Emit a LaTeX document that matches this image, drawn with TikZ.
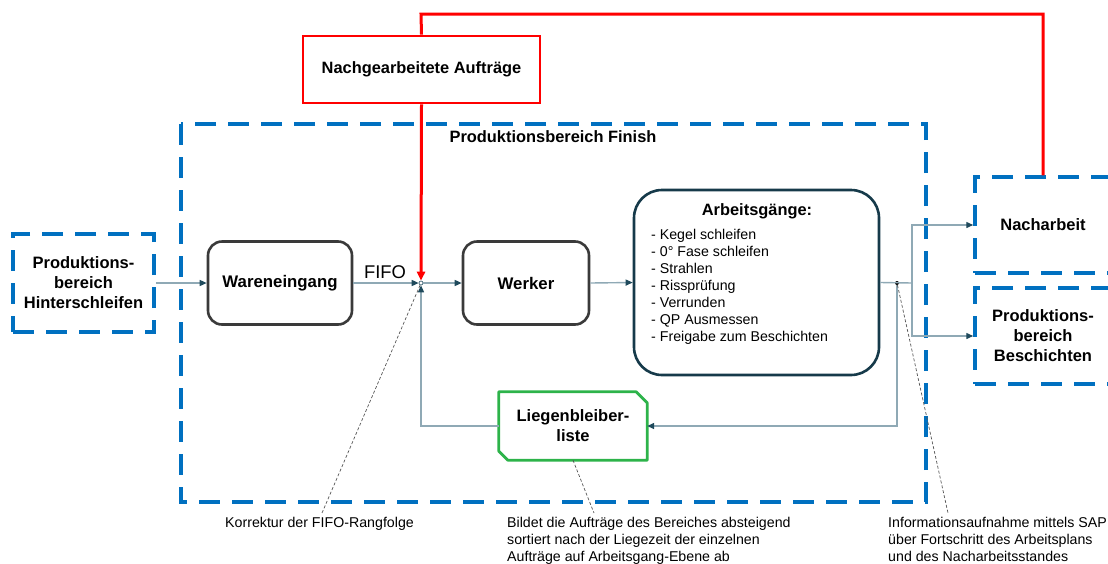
\documentclass[tikz,border=0pt]{standalone}
\usepackage{fontspec}
\setmainfont{Liberation Sans}
\usetikzlibrary{arrows.meta}
\definecolor{zoneblue}{HTML}{0070C0}
\definecolor{flowline}{HTML}{8FA9B5}
\definecolor{flowtip}{HTML}{1F4A5C}
\definecolor{boxgray}{HTML}{3A3A3A}
\definecolor{boxteal}{HTML}{163A4A}
\definecolor{redline}{HTML}{FF0000}
\definecolor{listgreen}{HTML}{2DB34A}
\definecolor{notegray}{HTML}{555555}

\begin{document}
\begin{tikzpicture}[x=1pt,y=-1pt,
  zone/.style={draw=zoneblue, line width=3.5pt, dash pattern=on 21pt off 12pt},
  zonebox/.style={zone, inner sep=0pt, align=center,
    font=\fontsize{16.5}{20}\selectfont\bfseries},
  proc/.style={draw=boxgray, line width=2.6pt, rounded corners=14pt,
    minimum height=83pt, inner sep=0pt, font=\fontsize{16.8}{19}\selectfont\bfseries},
  flowbase/.style={draw=flowline, line width=1.4pt},
  flow/.style={flowbase, -{Triangle[length=7pt,width=6pt,fill=flowtip,color=flowtip]}},
  redpath/.style={draw=redline, line width=3pt},
  redarrow/.style={redpath, -{Triangle[length=9pt,width=8pt,fill=redline,color=redline]}},
  note/.style={draw=notegray, line width=0.7pt, dash pattern=on 3pt off 2pt},
  notetext/.style={inner sep=0pt, anchor=north west, align=left,
    font=\fontsize{14.2}{17}\selectfont},
  boldlabel/.style={inner sep=0pt, font=\fontsize{16.4}{19}\selectfont\bfseries}
]
\useasboundingbox (0,0) rectangle (1108,563);
\clip (0,0) rectangle (1108,563);

% production area
\draw[zone] (181,124) rectangle (926,502);
\node[boldlabel] (finish) at (553,137) {Produktionsbereich Finish};

% neighbouring areas
\node[zonebox, minimum width=141pt, minimum height=98pt] (hs) at (83.5,283)
  {Produktions-\\bereich\\Hinterschleifen};
\node[zonebox, minimum width=136pt, minimum height=96pt] (na) at (1043,225)
  {Nacharbeit};
\node[zonebox, minimum width=136pt, minimum height=96pt] (bs) at (1043,336)
  {Produktions-\\bereich\\Beschichten};

% reworked orders
\node[draw=redline, line width=2.6pt, minimum width=237pt, minimum height=67pt,
  inner sep=0pt, font=\fontsize{16.4}{19}\selectfont\bfseries] (rw) at (421.5,69.5)
  {Nachgearbeitete Aufträge};

% process boxes
\node[proc, minimum width=144pt] (wa) at (280,283) {Wareneingang};
\node[proc, minimum width=126pt] (wk) at (526,283) {Werker};
\node[draw=boxteal, line width=2.6pt, rounded corners=28pt, minimum width=245pt,
  minimum height=185pt, inner sep=0pt] (ag) at (756.5,282.5) {};
\node[boldlabel] (agtitle) at (757,211) {Arbeitsgänge:};
\node[notetext] (aglist) at (651,229.5)
  {- Kegel schleifen\\- 0° Fase schleifen\\- Strahlen\\- Rissprüfung\\- Verrunden\\- QP Ausmessen\\- Freigabe zum Beschichten};

% list of idle orders
\node[inner sep=0pt, minimum width=148pt, minimum height=68pt, align=center,
  font=\fontsize{16.5}{20}\selectfont\bfseries] (lb) at (573,426)
  {Liegenbleiber-\\liste};
\draw[draw=listgreen, line width=2.8pt, line join=round]
  (lb.north west) -- ([xshift=-11pt]lb.north east) -- ([yshift=-11pt]lb.north east)
  -- (lb.south east) -- ([xshift=9pt]lb.south west) -- ([yshift=9pt]lb.south west) -- cycle;

% junctions
\node[circle, draw=flowtip, fill=white, line width=0.6pt, inner sep=0pt,
  minimum size=4pt] (j) at (421,283) {};
\node[circle, fill=black, inner sep=0pt, minimum size=4pt] (dot) at (897,283) {};
\coordinate (split) at (912,283);
\coordinate (rtop) at (421,14);

\node[inner sep=0pt, font=\fontsize{18.4}{20}\selectfont] (fifo) at (385,272) {FIFO};

% material flow
\draw[flow] (hs.east) -- (wa.west);
\draw[flow] (wa.east) -- (j.west);
\draw[flow] (j.east) -- (wk.west);
\draw[flow] (wk.east) -- (ag.west);
\draw[flowbase] (ag.east) -- (split);
\draw[flow] (split) |- (na.west);
\draw[flow] (split) |- (bs.west);
\draw[flow] (dot) |- (lb.east);
\draw[flow] (lb.west) -| (j.south);

% rework loop
\draw[redpath] (na.north) |- (rtop) -- (rw.north);
\draw[redarrow] (rw.south) -- (j.north);

% annotations
\coordinate (c1) at (322,513);
\coordinate (c2) at (594,513);
\coordinate (c3) at (948,513);
\draw[note] (j) -- (c1);
\draw[note] (lb.south) -- (c2);
\draw[note] (dot) -- (c3);
\node[notetext] (t1) at (225,517) {Korrektur der FIFO-Rangfolge};
\node[notetext] (t2) at (507,517)
  {Bildet die Aufträge des Bereiches absteigend\\sortiert nach der Liegezeit der einzelnen\\Aufträge auf Arbeitsgang-Ebene ab};
\node[notetext] (t3) at (888,517)
  {Informationsaufnahme mittels SAP\\über Fortschritt des Arbeitsplans\\und des Nacharbeitsstandes};
\end{tikzpicture}
\end{document}
